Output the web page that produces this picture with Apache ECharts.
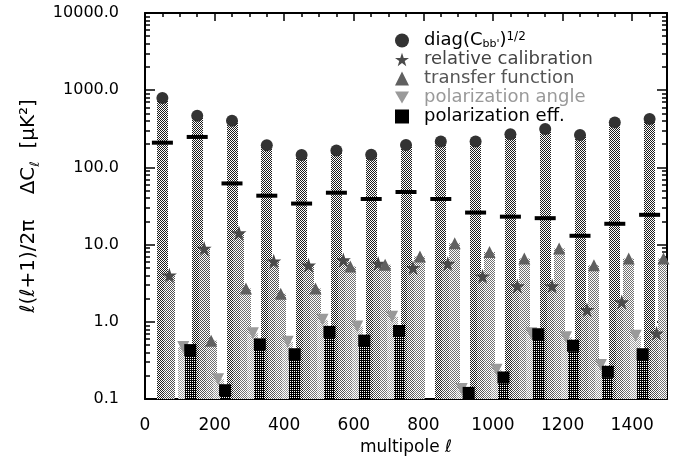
<!DOCTYPE html>
<html>
<head>
<meta charset="utf-8">
<script src="https://cdn.jsdelivr.net/npm/echarts@6/dist/echarts.min.js"></script>
<style>
	html, body { margin: 0; padding: 0; background: #fff; }
	#chart { width: 675px; height: 461px; }
</style>
</head>
<body>
<div id="chart"></div>
<script>
	// multipole bin centres
	var ellBins = [50, 150, 250, 350, 450, 550, 650, 750, 850, 950, 1050, 1150, 1250, 1350, 1450];
	// error contributions per bin, uK^2 (null = below the plot)
	var diagVals = [791, 467, 402, 193, 145, 165, 146, 195, 216, 216, 268, 314, 263, 383, 423];
	var totalVals = [209, 248, 62, 43, 34, 47, 39, 48, 39, 26, 23, 22, 13, 18.6, 24.3];
	var calibVals = [4.0, 8.9, 14.1, 6.1, 5.4, 6.3, 5.7, 5.0, 5.7, 3.9, 2.9, 2.9, 1.43, 1.81, 0.71];
	var transferVals = [null, 0.57, 2.7, 2.3, 2.7, 5.2, 5.5, 7.0, 10.4, 8.0, 6.6, 8.9, 5.4, 6.6, 6.6];
	var angleVals = [0.47, 0.18, 0.71, 0.55, 1.06, 0.87, 1.16, null, 0.135, 0.24, 0.71, 0.63, 0.275, 0.66, null];
	var effVals = [0.43, 0.13, 0.51, 0.38, 0.74, 0.57, 0.76, null, 0.12, 0.19, 0.69, 0.49, 0.225, 0.38, null];

	var xTicks = [0, 200, 400, 600, 800, 1000, 1200, 1400];
	var yTicks = [0.1, 1, 10, 100, 1000, 10000];

	var names = ['diag(Cbb\')^1/2', 'relative calibration', 'transfer function', 'polarization angle', 'polarization eff.'];
	var fontName = 'DejaVu Sans';
	var starPath = 'path://M50,0 L61.8,35.1 L98.1,35.1 L68.7,56.8 L79.4,91.9 L50,70.2 L20.6,91.9 L31.3,56.8 L1.9,35.1 L38.2,35.1 Z';
	var downTri = 'path://M0,0 L100,0 L50,87 Z';

	var xMinor = [], yMinor = [];
	for (var t = 50; t < 1500; t += 50) xMinor.push(t);
	for (var e = -1; e < 4; e++) {
		for (var m = 2; m < 10; m++) yMinor.push(+(m * Math.pow(10, e)).toPrecision(3));
	}

	function checker(dark, light, dense) {
		var c = document.createElement('canvas');
		c.width = 2; c.height = 2;
		var g = c.getContext('2d');
		g.fillStyle = light; g.fillRect(0, 0, 2, 2);
		g.fillStyle = dark;
		g.fillRect(0, 0, 1, 1); g.fillRect(1, 1, 1, 1);
		if (dense) g.fillRect(1, 0, 1, 1);
		return { image: c, repeat: 'repeat' };
	}

	function pairs(vals, offset) {
		var out = [];
		vals.forEach(function (v, i) {
			if (v != null) out.push([ellBins[i] + offset, v]);
		});
		return out;
	}

	function barSeries(vals, offset, pattern) {
		return {
			type: 'custom',
			name: 'bar' + offset,
			clip: true,
			silent: true,
			data: pairs(vals, offset),
			renderItem: function (params, api) {
				var x = api.value(0), v = api.value(1);
				var top = api.coord([x, v]);
				var base = api.coord([x, 0.1]);
				var w = 11;
				return {
					type: 'rect',
					shape: { x: Math.round(top[0] - w / 2), y: top[1], width: w, height: base[1] - top[1] },
					style: { fill: pattern }
				};
			}
		};
	}

	function markSeries(name, vals, offset, symbol, size, color) {
		return {
			type: 'scatter',
			name: name,
			data: pairs(vals, offset),
			symbol: symbol,
			symbolSize: size,
			itemStyle: { color: color, opacity: 1 },
			z: 5
		};
	}

	function tickAxis(pos, type, vals, len, showLine) {
		var ax = {
			type: type,
			position: pos,
			axisLine: { show: !!showLine, onZero: false, lineStyle: { color: '#000', width: 2 } },
			axisTick: { show: true, inside: true, length: len, customValues: vals, lineStyle: { color: '#000', width: 1.5 } },
			axisLabel: { show: false },
			splitLine: { show: false }
		};
		if (type === 'log') { ax.min = 0.1; ax.max = 10000; ax.logBase = 10; }
		else { ax.min = 0; ax.max = 1500; }
		return ax;
	}

	var xMain = tickAxis('bottom', 'value', xTicks, 8, true);
	xMain.axisLabel = {
		show: true, customValues: xTicks, margin: 18, color: '#000', fontSize: 17, fontFamily: fontName,
		formatter: function (v) { return String(v); }
	};
	xMain.name = 'multipole ℓ';
	xMain.nameLocation = 'middle';
	xMain.nameGap = 40;
	xMain.nameTextStyle = { color: '#000', fontSize: 17, fontFamily: fontName };

	var yMain = tickAxis('left', 'log', yTicks, 10, true);
	yMain.axisLabel = {
		show: true, customValues: yTicks, margin: 26, color: '#000', fontSize: 16, fontFamily: fontName,
		formatter: function (v) { return Number(v).toFixed(1); }
	};
	yMain.name = '{t|ℓ(ℓ+1)/2π    ΔC}{s|ℓ}{t|  [μK²]}';
	yMain.nameLocation = 'middle';
	yMain.nameGap = 103;
	yMain.nameTextStyle = {
		color: '#000', fontFamily: fontName,
		rich: {
			t: { fontSize: 20, fontFamily: fontName, color: '#000', lineHeight: 26 },
			s: { fontSize: 13, fontFamily: fontName, color: '#000', verticalAlign: 'bottom', lineHeight: 26 }
		}
	};

	var option = {
		animation: false,
		backgroundColor: '#fff',
		grid: { left: 145, right: 8, top: 13, bottom: 61, containLabel: false },
		legend: {
			orient: 'vertical',
			left: 390,
			top: 26,
			itemWidth: 14,
			itemHeight: 14,
			itemGap: 0,
			selectedMode: false,
			data: [
				{ name: names[0], textStyle: { color: '#000' } },
				{ name: names[1], textStyle: { color: '#444' } },
				{ name: names[2], textStyle: { color: '#555' } },
				{ name: names[3], icon: downTri, textStyle: { color: '#999' } },
				{ name: names[4], textStyle: { color: '#000' } }
			],
			textStyle: {
				fontSize: 18, fontFamily: fontName, lineHeight: 19, padding: [0, 0, 0, 10],
				rich: {
					a: { fontSize: 18, fontFamily: fontName, lineHeight: 19 },
					b: { fontSize: 11, fontFamily: fontName, verticalAlign: 'bottom', lineHeight: 19 },
					c: { fontSize: 12, fontFamily: fontName, verticalAlign: 'top', lineHeight: 19 }
				}
			},
			formatter: function (name) {
				if (name === names[0]) return '{a|diag(C}{b|bb\'}{a|)}{c|1/2}';
				return name;
			}
		},
		xAxis: [
			xMain,
			tickAxis('bottom', 'value', xMinor, 4, false),
			tickAxis('top', 'value', xTicks, 8, true),
			tickAxis('top', 'value', xMinor, 4, false)
		],
		yAxis: [
			yMain,
			tickAxis('left', 'log', yMinor, 5, false),
			tickAxis('right', 'log', yTicks, 10, true),
			tickAxis('right', 'log', yMinor, 5, false)
		],
		series: [
			barSeries(diagVals, 0, checker('#1e1e1e', '#ffffff', false)),
			barSeries(calibVals, 20, checker('#505050', '#ffffff', false)),
			barSeries(transferVals, 40, checker('#707070', '#ffffff', false)),
			barSeries(angleVals, 60, checker('#9a9a9a', '#ffffff', false)),
			barSeries(effVals, 80, checker('#000000', '#ffffff', true)),
			markSeries(names[0], diagVals, 0, 'circle', 12, '#333333'),
			markSeries(names[1], calibVals, 20, starPath, 15, '#4a4a4a'),
			markSeries(names[2], transferVals, 40, 'triangle', 12, '#606060'),
			markSeries(names[3], angleVals, 60, downTri, 12, '#9a9a9a'),
			markSeries(names[4], effVals, 80, 'rect', 12, '#000000'),
			{
				type: 'scatter',
				name: 'total',
				data: pairs(totalVals, 0),
				symbol: 'rect',
				symbolSize: [21, 4],
				itemStyle: { color: '#000', opacity: 1 },
				z: 6
			}
		]
	};

	var myChart = echarts.init(document.getElementById('chart'));
	myChart.setOption(option);
</script>
</body>
</html>
